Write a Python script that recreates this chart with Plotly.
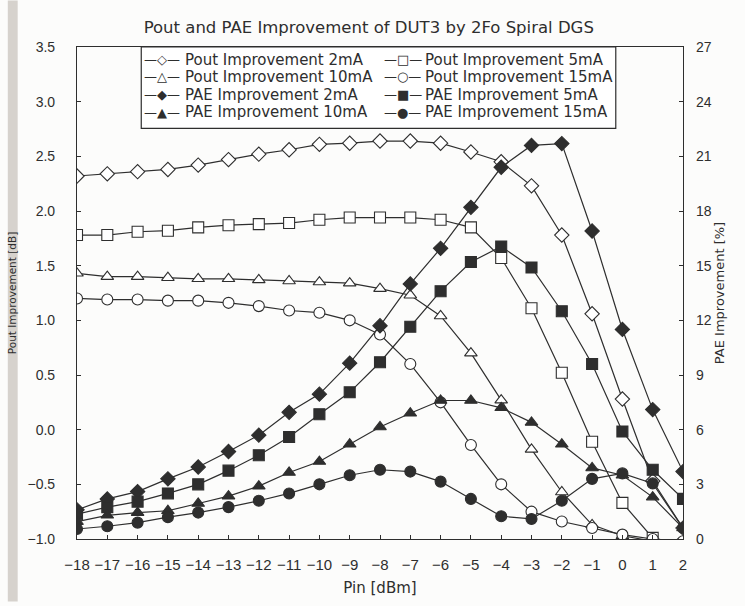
import plotly.graph_objects as go

# ---------------- data ----------------
pin = [-18, -17, -16, -15, -14, -13, -12, -11, -10, -9, -8, -7, -6, -5, -4, -3, -2, -1, 0, 1, 2]

pout_2mA = [2.32, 2.34, 2.36, 2.38, 2.42, 2.47, 2.52, 2.56, 2.61, 2.62, 2.64, 2.64, 2.62, 2.54, 2.45, 2.23, 1.78, 1.06, 0.28, -0.47, -0.90]
pout_5mA = [1.78, 1.78, 1.81, 1.82, 1.85, 1.87, 1.88, 1.89, 1.92, 1.94, 1.94, 1.94, 1.92, 1.85, 1.57, 1.11, 0.52, -0.11, -0.67, -0.99, -1.05]
pout_10mA = [1.43, 1.40, 1.40, 1.39, 1.38, 1.38, 1.37, 1.36, 1.35, 1.34, 1.29, 1.23, 1.04, 0.70, 0.27, -0.18, -0.57, -0.87, -0.97, -1.02, -1.05]
pout_15mA = [1.20, 1.19, 1.19, 1.18, 1.18, 1.16, 1.13, 1.09, 1.07, 1.00, 0.87, 0.60, 0.25, -0.14, -0.50, -0.75, -0.84, -0.90, -0.96, -1.00, -1.02]

pae_2mA = [1.6, 2.2, 2.6, 3.3, 3.95, 4.8, 5.7, 6.95, 7.95, 9.65, 11.7, 14.0, 15.95, 18.2, 20.4, 21.6, 21.7, 16.9, 11.5, 7.1, 3.7]
pae_5mA = [1.36, 1.75, 2.05, 2.5, 3.0, 3.75, 4.6, 5.6, 6.85, 8.05, 9.7, 11.65, 13.6, 15.2, 16.05, 14.9, 12.5, 9.6, 5.9, 3.8, 2.2]
pae_10mA = [0.95, 1.3, 1.45, 1.55, 1.95, 2.35, 2.9, 3.65, 4.25, 5.2, 6.15, 6.9, 7.6, 7.6, 7.2, 6.4, 5.2, 3.9, 3.5, 2.3, 0.6]
pae_15mA = [0.55, 0.7, 0.9, 1.2, 1.45, 1.75, 2.1, 2.5, 3.0, 3.5, 3.8, 3.7, 3.15, 2.2, 1.25, 1.1, 2.1, 3.3, 3.6, 3.05, 0.6]

left_ticks = [-1.0, -0.5, 0.0, 0.5, 1.0, 1.5, 2.0, 2.5, 3.0, 3.5]
right_ticks = [0, 3, 6, 9, 12, 15, 18, 21, 24, 27]

title = "Pout and PAE Improvement of DUT3 by 2Fo Spiral DGS"
names = ["Pout Improvement 2mA", "Pout Improvement 5mA", "Pout Improvement 10mA", "Pout Improvement 15mA",
         "PAE Improvement 2mA", "PAE Improvement 5mA", "PAE Improvement 10mA", "PAE Improvement 15mA"]
values = [pout_2mA, pout_5mA, pout_10mA, pout_15mA, pae_2mA, pae_5mA, pae_10mA, pae_15mA]
axes = ["y", "y", "y", "y", "y2", "y2", "y2", "y2"]
symbols = ["diamond", "square", "triangle-up", "circle", "diamond", "square", "triangle-up", "circle"]
filled = [False, False, False, False, True, True, True, True]
legend_glyphs = ["\u25c7", "\u25a1", "\u25b3", "\u25cb", "\u25c6", "\u25a0", "\u25b2", "\u25cf"]

INK = "#2e2e2e"
FONT = "DejaVu Sans, Arial, sans-serif"
NARROW = "Liberation Sans Narrow, Arial Narrow, Liberation Sans, Arial, sans-serif"

fig = go.Figure()
for name, vals, yax, sym, fl in zip(names, values, axes, symbols, filled):
    fig.add_trace(go.Scatter(
        x=pin, y=vals, yaxis=yax, name=name, mode="lines+markers",
        line=dict(color=INK, width=1.2),
        marker=dict(symbol=sym, size=11, color=INK if fl else "white",
                    line=dict(color=INK, width=1.1)),
        showlegend=False,
    ))

fig.update_layout(
    width=745, height=606,
    margin=dict(l=70, r=62, t=47, b=63),
    paper_bgcolor="#fcfcfb", plot_bgcolor="#fcfcfb",
    font=dict(family=FONT, color=INK, size=13),
    title=dict(text=title, x=0.495, xanchor="center", y=0.955, yanchor="middle",
               font=dict(size=16.5, family=FONT, color=INK)),
    xaxis=dict(range=[-18, 2], tickmode="array", tickvals=pin,
               ticks="inside", ticklen=4, tickcolor=INK,
               showline=True, linecolor=INK, linewidth=1.2, mirror=True,
               showgrid=False, zeroline=False, ticklabelstandoff=12,
               title=dict(text="Pin [dBm]", font=dict(size=15, family=FONT), standoff=10),
               tickfont=dict(size=15, family=NARROW)),
    yaxis=dict(range=[-1.0, 3.5], tickmode="array", tickvals=left_ticks,
               tickformat=".1f", ticks="inside", ticklen=4, tickcolor=INK,
               showline=True, linecolor=INK, linewidth=1.2,
               showgrid=False, zeroline=False, ticklabelstandoff=18,
               title=dict(text="Pout Improvement [dB]", font=dict(size=10.5, family=FONT), standoff=8),
               tickfont=dict(size=14, family=NARROW)),
    yaxis2=dict(range=[0, 27], tickmode="array", tickvals=right_ticks,
                overlaying="y", side="right", ticks="inside", ticklen=4, tickcolor=INK,
                showline=True, linecolor=INK, linewidth=1.2,
                showgrid=False, zeroline=False, ticklabelstandoff=9,
                title=dict(text="PAE Improvement [%]", font=dict(size=13, family=FONT), standoff=4),
                tickfont=dict(size=14, family=NARROW)),
)

# legend drawn as a boxed block of text (two columns, four rows)
PW, PH = 613.0, 496.0
def px_x(px):
    return (px - 70) / PW
def px_y(py):
    return (543 - py) / PH

fig.add_shape(type="rect", xref="paper", yref="paper",
              x0=px_x(135), x1=px_x(615), y0=px_y(129), y1=px_y(47),
              fillcolor="white", line=dict(color=INK, width=1.2))
row_y = [60, 77, 95, 113]
col_sym = [136, 379]
col_txt = [177, 420]
for i, (name, g) in enumerate(zip(names, legend_glyphs)):
    r, c = divmod(i, 2)
    fig.add_annotation(xref="paper", yref="paper", x=px_x(col_sym[c]), y=px_y(row_y[r]),
                       xanchor="left", yanchor="middle", showarrow=False,
                       text="\u2014" + g + "\u2014", font=dict(size=13, family=FONT, color=INK))
    fig.add_annotation(xref="paper", yref="paper", x=px_x(col_txt[c]), y=px_y(row_y[r]),
                       xanchor="left", yanchor="middle", showarrow=False,
                       text=name, font=dict(size=15, family=FONT, color=INK))

# scanned page edge on the left
fig.add_shape(type="rect", xref="paper", yref="paper",
              x0=-70/PW, x1=-60/PW, y0=-63/PH, y1=1+47/PH,
              fillcolor="#d6d2cd", line=dict(width=0), layer="below")

fig.write_html("out.html")
